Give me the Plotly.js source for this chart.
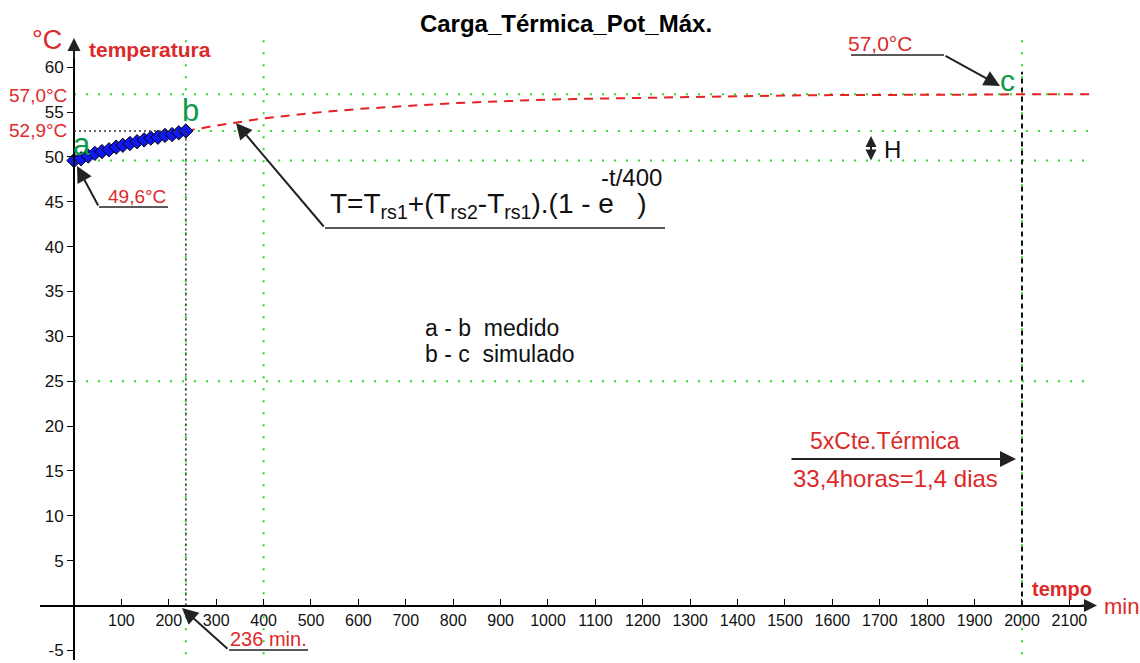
<!DOCTYPE html>
<html>
<head>
<meta charset="utf-8">
<script src="https://cdn.plot.ly/plotly-3.0.1.min.js"></script>
<style>html,body{margin:0;padding:0;background:#fff;}#chart{width:1140px;height:663px;}</style>
</head>
<body>
<div id="chart"></div>
<script>
// ---- data ----
const measuredTime = [0, 15, 30, 44, 59, 74, 89, 103, 118, 133, 148, 162, 177, 192, 207, 221, 236];
const measuredTemp = [49.6, 49.8, 50.1, 50.4, 50.6, 50.8, 51.1, 51.3, 51.5, 51.7, 51.9, 52.1, 52.2, 52.4, 52.5, 52.7, 52.9];
const simTime = [236, 300, 400, 500, 600, 700, 800, 900, 1000, 1100, 1200, 1300, 1400, 1500, 1600, 1700, 1800, 1900, 2000, 2100, 2150];
const simTemp = [52.9, 53.5, 54.3, 54.9, 55.35, 55.7, 56.0, 56.2, 56.4, 56.5, 56.6, 56.7, 56.8, 56.85, 56.9, 56.9, 56.95, 56.95, 57.0, 57.0, 57.0];
const xTickVals = [100, 200, 300, 400, 500, 600, 700, 800, 900, 1000, 1100, 1200, 1300, 1400, 1500, 1600, 1700, 1800, 1900, 2000, 2100];
const yTickVals = [-5, 5, 10, 15, 20, 25, 30, 35, 40, 45, 50, 55, 60];
const refTemps = [57.0, 52.9, 49.6, 25];
const refTimes = [236, 400, 2000];
const tempEnd = 57.0;     // c
const tempB = 52.9;       // b
const tempA = 49.6;       // a
const timeB = 236;
const timeC = 2000;

// ---- layout helpers (pixel -> paper) ----
const L = 40, R = 1092, T = 40, B = 660;
const PX = x => (x - L) / (R - L);
const PY = y => (B - y) / (B - T);
const FONT = 'Liberation Sans, Arial, sans-serif';
const RED = '#dc2a2a', GREEN = '#0f9a4a', LGREEN = '#22e022';

const traces = [
  {x: simTime, y: simTemp, mode: 'lines', line: {color: '#e82020', width: 2, dash: '9px,7px'}, hoverinfo: 'skip'},
  {x: measuredTime, y: measuredTemp, mode: 'lines+markers',
   line: {color: '#1010e8', width: 2},
   marker: {symbol: 'diamond', size: 11, color: '#1018f0', line: {color: '#000', width: 1}}, cliponaxis: false}
];

const shapes = [];
// green dotted horizontal reference lines
refTemps.forEach(v => {
  shapes.push({type: 'line', xref: 'paper', yref: 'y', x0: (v === tempB ? PX(74 + timeB * 0.474) : PX(74)), x1: 1, y0: v, y1: v,
    line: {color: LGREEN, width: 2, dash: '2px,10px'}, layer: 'below'});
});
// black dotted from axis to b
shapes.push({type: 'line', xref: 'x', yref: 'y', x0: 0, x1: timeB, y0: tempB, y1: tempB, line: {color: '#333', width: 1.5, dash: '2px,3px'}});
// green dotted vertical reference lines
refTimes.forEach(v => {
  shapes.push({type: 'line', xref: 'x', yref: 'paper', x0: v, x1: v, y0: -0.01, y1: 1,
    line: {color: LGREEN, width: 2, dash: '2px,10px'}, layer: 'below'});
});
// black dotted at b down to axis
shapes.push({type: 'line', xref: 'x', yref: 'y', x0: timeB, x1: timeB, y0: 0, y1: tempB, line: {color: '#333', width: 1.5, dash: '2px,3px'}});
// black dashed at c
shapes.push({type: 'line', xref: 'x', yref: 'y', x0: timeC, x1: timeC, y0: 0, y1: 59.5, line: {color: '#111', width: 2, dash: '5px,4px'}});
// underlines (leader lines)
const ul = (x0, x1, y) => shapes.push({type: 'line', xref: 'paper', yref: 'paper', x0: PX(x0), x1: PX(x1), y0: PY(y), y1: PY(y), line: {color: '#222', width: 1.5}});
ul(99, 168, 207);
ul(325, 665, 228);
ul(851, 944, 55);
ul(229, 308, 650);

const ann = [];
const txt = (x, y, text, size, color, opts) => ann.push(Object.assign({xref: 'paper', yref: 'paper', x: PX(x), y: PY(y), text: text, showarrow: false,
  xanchor: 'center', yanchor: 'middle', font: {family: FONT, size: size, color: color}}, opts || {}));
const arr = (tx, ty, ax, ay, opts) => ann.push(Object.assign({xref: 'paper', yref: 'paper', x: PX(tx), y: PY(ty), ax: ax - tx, ay: ay - ty, text: '',
  showarrow: true, arrowhead: 2, arrowsize: 1.6, arrowwidth: 2, arrowcolor: '#222'}, opts || {}));

txt(47, 40, '°C', 27, RED);
txt(87, 50, '<b>temperatura</b>', 21, RED, {xanchor: 'left'});
txt(69, 95, tempEnd.toFixed(1).replace('.', ',') + '°C', 19, RED, {xanchor: 'right'});
txt(69, 131, tempB.toFixed(1).replace('.', ',') + '°C', 19, RED, {xanchor: 'right'});
txt(82, 145, 'a', 31, GREEN);
txt(190, 111, 'b', 31, GREEN);
txt(1007, 80, 'c', 30, GREEN);
txt(137, 197, tempA.toFixed(1).replace('.', ',') + '°C', 19, RED);
txt(328, 206, 'T=T<sub>rs1</sub>+(T<sub>rs2</sub>-T<sub>rs1</sub>).(1 - e &nbsp;&nbsp;)', 28, '#111', {xanchor: 'left'});
txt(631, 177, '-t/400', 24, '#111');
txt(423, 328, 'a - b &nbsp;medido', 23, '#111', {xanchor: 'left'});
txt(423, 354, 'b - c &nbsp;simulado', 23, '#111', {xanchor: 'left'});
txt(880, 43, tempEnd.toFixed(1).replace('.', ',') + '°C', 21, RED);
txt(892, 149, 'H', 24, '#111');
txt(885, 441, '5xCte.Térmica', 23, RED);
txt(895, 478, '33,4horas=1,4 dias', 24, RED);
txt(268, 639, timeB + ' min.', 20, RED);
txt(1062, 589, '<b>tempo</b>', 20, RED);
txt(1121, 606, 'min', 22, RED);

// arrows
arr(77, 166, 99, 207);
arr(236, 123, 325, 228);
arr(1000, 86, 944, 55);
arr(1016, 459, 790, 459);
arr(182, 608, 229, 650);
arr(871, 136, 871, 162, {arrowside: 'end+start', arrowsize: 1.1, arrowwidth: 2});
// axis arrows
arr(74, 38, 74, 60, {arrowsize: 1.3});
arr(1097, 605.5, 1080, 605.5, {arrowsize: 1.3});

const layout = {
  width: 1140, height: 663,
  margin: {l: L, r: 1140 - R, t: T, b: 663 - B},
  paper_bgcolor: '#fff', plot_bgcolor: 'rgba(0,0,0,0)',
  showlegend: false,
  title: {text: 'Carga_Térmica_Pot_Máx.', x: 566 / 1140, xanchor: 'center', y: 1 - 24 / 663, yanchor: 'middle',
    font: {family: FONT, size: 24, color: '#000', weight: 'bold'}},
  xaxis: {range: [-71.7, 2147.7], anchor: 'free', position: PY(605.5), showline: true, linecolor: '#000', linewidth: 2,
    ticks: 'inside', ticklen: 6, tickwidth: 1, tickcolor: '#000', tickvals: xTickVals, ticktext: xTickVals.map(String),
    tickfont: {family: FONT, size: 16, color: '#111'}, showgrid: false, zeroline: false, fixedrange: true},
  yaxis: {range: [-6.08, 63.04], anchor: 'free', position: PX(74), side: 'left', showline: true, linecolor: '#000', linewidth: 2,
    ticks: 'outside', ticklen: 6, tickwidth: 1, tickcolor: '#000', tickvals: yTickVals, ticktext: yTickVals.map(String),
    tickfont: {family: FONT, size: 17, color: '#111'}, showgrid: false, zeroline: false, fixedrange: true},
  shapes: shapes,
  annotations: ann
};

Plotly.newPlot('chart', traces, layout, {staticPlot: true});
</script>
</body>
</html>
